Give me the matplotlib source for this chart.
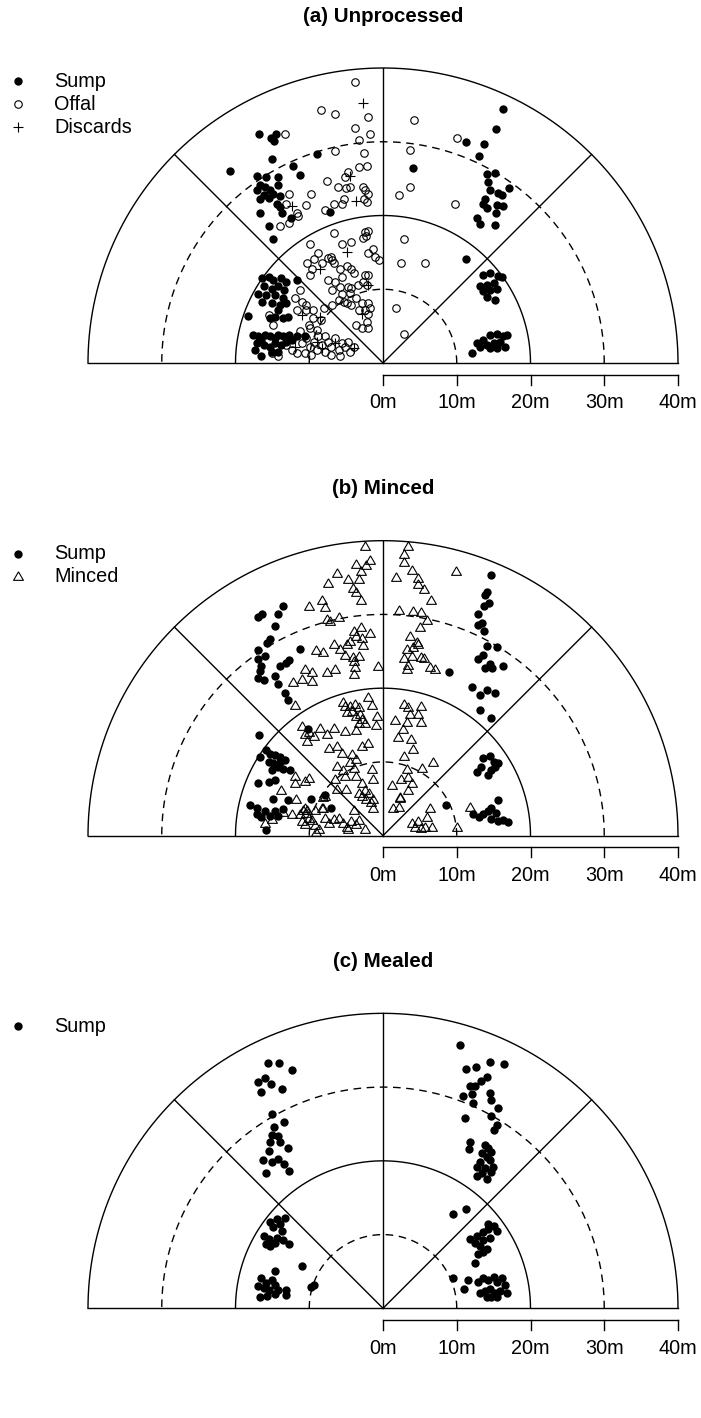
import numpy as np
import matplotlib
matplotlib.use("Agg")
import matplotlib.pyplot as plt

plt.rcParams['font.family'] = ['Liberation Sans', 'DejaVu Sans']

# positions in metres, (x, y) from the centre of the semicircle

# (a) Unprocessed
a_sump = [
    (-16.8, 31.1), (-15.2, 30.5), (-14.5, 31.1), (-14.8, 30.1), (-15.1, 27.6), (-9.0, 28.3),
    (-12.2, 26.7), (-11.2, 25.5), (-20.7, 26.1), (-17.1, 25.3), (-15.9, 25.2), (-14.2, 25.2),
    (-16.7, 24.1), (-16.0, 23.9), (-15.3, 23.5), (-17.1, 23.5), (-16.2, 22.8), (-15.5, 22.4),
    (-16.7, 22.2), (-14.9, 22.9), (-14.2, 24.1), (-13.9, 22.6), (-14.4, 21.6), (-14.0, 21.2),
    (-13.7, 20.3), (-16.7, 20.3), (-7.2, 20.5), (-15.5, 18.6), (-14.9, 16.8), (-12.5, 19.7),
    (16.3, 34.5), (15.3, 31.7), (11.2, 29.9), (13.7, 29.7), (13.0, 28.1), (4.0, 26.4),
    (14.1, 25.6), (15.2, 25.7), (14.3, 24.6), (17.1, 23.7), (14.5, 23.5), (15.6, 23.0),
    (16.2, 22.8), (13.8, 22.3), (13.6, 21.6), (15.4, 21.4), (16.3, 21.3), (14.1, 21.0),
    (15.3, 20.3), (12.7, 19.6), (13.2, 18.9), (15.2, 18.7), (11.3, 14.1),
    (13.6, 11.9), (14.5, 12.2), (15.6, 11.8), (16.1, 11.7), (13.2, 10.4), (14.1, 10.6),
    (15.0, 10.8), (13.6, 9.7), (14.5, 9.9), (15.4, 10.1), (14.1, 9.0), (15.2, 8.5),
    (12.7, 2.7), (13.6, 3.1), (14.5, 3.8), (15.4, 4.0), (16.3, 3.6), (16.8, 3.8),
    (13.2, 2.2), (14.1, 2.5), (15.0, 2.7), (15.9, 2.9), (16.5, 2.2), (15.4, 2.0),
    (14.5, 2.0), (12.0, 1.4),
    (-16.4, 11.5), (-15.5, 11.7), (-14.9, 11.3), (-13.8, 11.5), (-13.1, 11.0), (-16.2, 10.4),
    (-15.1, 10.1), (-14.2, 10.4), (-13.4, 9.9), (-16.9, 9.4), (-15.8, 9.2), (-14.6, 9.2),
    (-13.5, 8.8), (-16.4, 8.3), (-15.1, 8.1), (-14.0, 7.9), (-13.1, 8.1), (-11.7, 11.3),
    (-14.2, 7.2), (-14.6, 6.3), (-15.3, 6.1), (-13.5, 6.1), (-12.9, 6.2), (-18.3, 6.4),
    (-17.6, 3.8), (-16.9, 3.6), (-16.5, 3.1), (-16.0, 3.8), (-15.3, 3.6), (-14.6, 3.4),
    (-14.2, 3.8), (-13.5, 3.6), (-12.8, 3.8), (-12.4, 3.1), (-17.1, 2.7), (-16.2, 2.4),
    (-15.3, 2.2), (-14.6, 2.7), (-13.8, 2.4), (-13.1, 2.9), (-16.5, 0.9), (-17.4, 1.8),
    (-15.1, 1.5), (-14.2, 1.5), (-11.7, 3.6), (-10.6, 3.6),
]
a_offal = [
    (-3.8, 38.1), (-8.4, 34.3), (-6.5, 33.7), (-2.1, 33.4), (-3.8, 31.9), (-1.7, 31.1),
    (-3.3, 30.2), (-6.5, 28.7), (-2.6, 28.5), (-3.3, 26.6), (-2.2, 26.7), (-13.3, 31.0),
    (-7.6, 24.7), (-6.1, 23.8), (-5.2, 25.2), (-4.8, 25.9), (-5.0, 23.7), (-4.5, 23.9),
    (-2.7, 23.9), (-2.4, 23.5), (-2.0, 22.9), (-2.6, 22.3), (-2.2, 21.8), (-5.3, 22.3),
    (-5.6, 21.5), (-6.7, 21.6), (-7.9, 20.8), (-9.7, 22.9), (-10.5, 21.4), (-12.8, 22.9),
    (-11.6, 20.3), (-13.2, 21.6), (-14.0, 18.6), (-12.8, 19.0), (-11.5, 20.0),
    (4.2, 32.9), (3.7, 28.9), (3.6, 23.9), (2.2, 22.8), (9.7, 21.5), (10.0, 30.5),
    (2.8, 16.8), (2.5, 13.6), (5.7, 13.6), (1.8, 7.4), (2.8, 4.0),
    (-6.7, 17.6), (-9.9, 16.2), (-5.6, 16.2), (-4.3, 16.4), (-8.8, 14.9), (-10.3, 13.5),
    (-9.3, 14.1), (-8.3, 13.6), (-9.6, 12.7), (-9.9, 11.9), (-7.4, 14.2), (-6.9, 13.9),
    (-6.7, 13.5), (-5.8, 12.8), (-4.9, 13.1), (-4.3, 12.8), (-5.6, 11.7), (-4.0, 12.2),
    (-7.4, 11.3), (-6.5, 11.0), (-5.8, 10.3), (-4.7, 10.3), (-6.9, 9.9), (-5.6, 9.3),
    (-4.5, 9.5), (-3.6, 8.8), (-4.3, 7.9), (-2.9, 8.1), (-2.1, 8.1), (-1.7, 7.4),
    (-2.5, 7.2), (-2.0, 6.7), (-3.2, 7.2), (-4.9, 8.1), (-6.0, 8.5), (-5.3, 8.3),
    (-6.9, 7.9), (-3.6, 5.2), (-2.9, 4.7), (-2.0, 4.7), (-2.2, 5.6), (-2.4, 17.8),
    (-2.0, 17.9), (-2.7, 16.9), (-2.3, 17.2), (-1.4, 15.5), (-2.0, 14.9), (-1.1, 14.4),
    (-0.6, 14.0), (-7.0, 14.4), (-2.4, 12.0), (-2.0, 12.0), (-2.7, 11.0), (-2.2, 10.6),
    (-4.3, 10.2), (-3.4, 10.6),
    (-15.5, 6.5), (-14.9, 5.1), (-11.3, 9.9), (-12.0, 8.8), (-11.0, 8.3), (-10.4, 7.9),
    (-11.7, 7.2), (-10.4, 7.2), (-9.5, 7.2), (-9.5, 6.1), (-8.4, 5.8), (-8.0, 7.4),
    (-10.1, 5.1), (-9.0, 4.5),
    (-13.1, 2.4), (-12.4, 1.8), (-11.7, 1.3), (-11.0, 2.7), (-10.4, 3.4), (-9.9, 2.2),
    (-9.4, 2.9), (-9.0, 1.8), (-8.3, 2.4), (-7.9, 1.5), (-7.4, 2.9), (-7.0, 2.2),
    (-6.5, 3.4), (-6.0, 1.8), (-5.6, 2.7), (-5.2, 2.2), (-4.7, 2.9), (-4.5, 1.5),
    (-4.0, 2.2), (-10.6, 1.3), (-9.7, 1.1), (-7.0, 1.1), (-5.8, 0.9), (-8.8, 3.6),
    (-7.9, 3.6), (-15.1, 1.3), (-14.2, 0.9), (-11.3, 4.3), (-9.9, 4.7),
]
a_discards = [
    (-2.7, 35.2), (-3.6, 22.0), (-4.5, 25.3), (-12.3, 21.3), (-4.9, 15.0), (-8.6, 12.7),
    (-2.0, 10.6), (-2.9, 6.7), (-11.0, 6.5), (-8.6, 6.2), (-11.9, 2.2), (-9.0, 2.9),
    (-8.3, 2.0), (-6.5, 2.7), (-4.0, 2.0),
]

# (b) Minced
b_sump = [
    (-13.6, 31.2), (-14.2, 30.0), (-16.4, 30.0), (-17.0, 29.6), (-14.6, 28.4), (-15.3, 26.7),
    (-15.7, 26.1), (-17.0, 25.2), (-11.2, 25.3), (-16.0, 24.3), (-12.8, 23.8),
    (-16.9, 23.9), (-16.5, 23.0), (-16.7, 22.3), (-16.9, 21.4), (-16.2, 21.1), (-14.6, 21.6),
    (-13.9, 23.0), (-13.1, 23.4), (-14.2, 20.5), (-13.3, 19.3), (-12.9, 18.4),
    (-10.2, 14.4),
    (-16.8, 13.6), (-15.8, 11.6), (-16.7, 10.7), (-15.3, 11.1), (-14.6, 10.9), (-13.9, 10.7),
    (-13.3, 10.2), (-15.5, 10.0), (-14.9, 9.8), (-14.2, 9.3), (-13.5, 9.1), (-12.6, 8.9),
    (-15.1, 8.9), (-14.6, 7.5), (-15.5, 7.3), (-17.0, 7.1), (-13.9, 10.0), (-14.9, 5.0),
    (-12.9, 4.8), (-9.7, 5.0), (-7.9, 5.5), (-7.0, 3.8), (-17.1, 3.8), (-16.0, 3.4),
    (-14.6, 3.4), (-13.5, 3.6), (-18.0, 4.1), (-17.1, 2.9), (-16.5, 2.5), (-15.3, 2.6),
    (-14.2, 2.6), (-15.9, 0.8),
    (14.6, 35.3), (14.1, 33.0), (13.8, 32.6), (14.4, 31.6), (13.7, 31.2), (12.9, 30.0),
    (13.4, 28.9), (12.9, 28.5), (13.7, 27.8), (14.1, 25.7), (15.4, 25.6), (13.5, 24.5),
    (12.9, 23.9), (14.5, 23.3), (13.8, 22.8), (14.8, 22.7), (16.3, 23.0), (8.9, 22.2),
    (12.0, 20.2), (13.2, 19.1), (14.1, 19.7), (15.2, 19.3), (13.2, 17.0), (14.7, 15.9),
    (13.5, 10.5), (14.5, 10.8), (15.1, 10.0), (15.6, 9.9), (13.3, 9.3), (12.7, 8.6),
    (14.2, 8.2), (14.7, 8.9), (15.2, 9.3), (8.5, 4.2), (12.2, 2.9), (13.0, 2.5),
    (13.6, 2.9), (14.3, 3.3), (14.7, 3.8), (15.3, 3.1), (15.6, 4.8), (15.6, 2.0),
    (16.3, 2.1), (16.9, 1.9), (14.7, 2.3),
]
b_minced = [
    (-2.4, 39.1), (-1.8, 37.3), (-3.6, 36.7), (-2.3, 36.5), (-3.0, 35.8), (-6.2, 35.5),
    (-4.7, 34.6), (-3.3, 34.7), (-7.5, 34.1), (-4.1, 33.4), (-3.6, 32.9), (-3.0, 31.8),
    (-10.1, 31.0), (-8.3, 31.8), (-7.9, 30.9), (-7.6, 29.3), (-7.2, 29.0), (-5.9, 29.5),
    (-3.9, 27.6), (-3.0, 28.1), (-1.8, 27.3), (-3.6, 27.0), (-2.9, 26.6), (-4.5, 26.3),
    (-2.7, 25.7), (-4.9, 25.8), (-6.7, 25.9), (-5.8, 25.2), (-9.1, 25.0), (-8.2, 24.8),
    (-5.2, 24.3), (-4.1, 24.1), (-3.3, 24.2),
    (-10.6, 22.5), (-9.6, 22.0), (-11.0, 21.1), (-12.2, 20.7), (-9.6, 20.8), (-7.6, 22.0),
    (-6.5, 22.5), (-4.0, 23.6), (-3.8, 22.7), (-3.9, 21.8), (-0.7, 22.9), (-12.0, 17.6),
    (-5.4, 18.0), (-4.5, 17.5), (-3.8, 17.7), (-4.2, 16.8), (-3.3, 17.3), (-3.1, 16.4),
    (-3.6, 16.1), (-2.9, 15.7), (-2.4, 15.2), (-3.3, 15.2), (-2.0, 18.6), (-1.5, 17.6),
    (-0.8, 16.1), (-1.0, 14.9), (-4.9, 16.6), (-5.2, 17.4), (-11.0, 14.8), (-10.1, 13.9),
    (-9.4, 13.4), (-8.5, 14.5), (-7.6, 13.6), (-6.7, 14.5), (-5.2, 14.1), (-3.7, 14.2),
    (-10.3, 12.7), (-10.6, 13.6),
    (-7.3, 11.8), (-6.2, 12.0), (-5.6, 11.1), (-4.2, 10.9), (-2.9, 12.0), (-2.0, 12.4),
    (-4.5, 9.8), (-3.6, 10.3), (-6.2, 9.3), (-5.4, 8.8), (-4.0, 9.1), (-6.5, 7.5),
    (-5.2, 7.9), (-3.7, 7.9), (-2.9, 7.0), (-1.5, 8.9), (-1.3, 7.5), (-2.4, 6.1),
    (-1.9, 5.6), (-3.3, 5.7), (-1.3, 4.8), (-5.0, 6.2), (-6.3, 6.2),
    (-12.0, 7.9), (-10.6, 7.3), (-12.0, 7.0), (-10.1, 7.7), (-13.8, 6.1), (-7.9, 5.2),
    (-10.6, 3.6), (-8.1, 3.6), (-10.3, 3.4), (-9.2, 3.4),
    (-16.0, 1.6), (-15.1, 2.1), (-13.5, 3.1), (-12.4, 2.8), (-11.8, 4.8), (-11.3, 2.8),
    (-10.8, 3.4), (-10.4, 3.0), (-10.1, 2.3), (-9.6, 2.0), (-9.2, 1.3), (-8.7, 0.8),
    (-8.3, 3.6), (-7.9, 2.3), (-7.3, 1.6), (-6.7, 2.1), (-6.0, 2.3), (-5.4, 1.6),
    (-4.9, 1.1), (-4.3, 1.9), (-3.7, 1.4), (-3.3, 2.0), (-4.0, 3.3), (-2.9, 5.2),
    (-2.3, 4.9), (-1.6, 4.4), (-1.3, 3.6), (-9.1, 0.4), (-4.7, 0.8), (-10.6, 1.5),
    (-11.0, 1.9), (-8.1, 5.1), (-2.4, 0.8),
    (3.4, 39.1), (2.8, 38.0), (2.9, 37.0), (3.9, 35.9), (1.7, 34.9), (4.8, 34.8),
    (4.7, 34.0), (5.6, 33.3), (6.5, 31.8), (9.9, 35.8), (2.2, 30.5), (4.0, 30.3),
    (5.2, 30.2), (5.9, 29.1), (5.0, 28.2), (3.7, 27.0), (4.6, 26.1), (3.2, 25.2),
    (4.1, 25.5), (4.8, 25.9), (2.9, 23.9), (3.9, 24.2), (5.2, 24.1), (5.6, 23.9),
    (3.4, 23.0), (3.2, 22.5), (6.4, 22.7), (7.0, 22.5),
    (2.8, 17.7), (3.4, 17.3), (5.2, 17.5), (3.7, 16.4), (4.7, 16.4), (1.6, 15.5),
    (3.2, 15.3), (5.2, 15.3), (2.7, 14.3), (2.0, 13.2), (3.8, 13.0), (4.1, 11.6),
    (2.9, 10.6), (5.3, 9.1), (6.8, 9.8), (3.2, 8.9), (2.5, 7.5), (3.4, 7.8),
    (3.9, 7.0), (1.2, 6.7), (2.3, 5.0), (3.4, 6.0), (6.4, 3.6), (1.4, 3.6),
    (2.3, 5.1), (2.2, 3.7), (3.9, 1.6), (4.3, 1.1), (4.7, 1.9), (5.7, 1.1),
    (5.9, 2.4), (6.6, 1.1), (5.2, 0.9), (10.1, 1.1), (11.8, 3.8),
]

# (c) Mealed
c_sump = [
    (-15.6, 33.2), (-14.1, 33.3), (-12.4, 32.3), (-16.9, 30.7), (-16.0, 31.2), (-15.2, 30.4),
    (-16.6, 29.3), (-13.7, 29.7), (-15.1, 26.3), (-13.4, 25.2), (-14.8, 24.6), (-15.1, 23.5),
    (-14.2, 23.3), (-15.3, 22.6), (-13.9, 22.5), (-12.9, 21.8), (-15.5, 21.3), (-16.3, 20.1),
    (-15.0, 19.8), (-14.2, 20.2), (-13.4, 19.6), (-15.9, 18.3), (-12.7, 18.6),
    (10.4, 35.7), (11.3, 32.5), (12.6, 32.7), (14.5, 33.4), (16.4, 33.1), (14.1, 31.3),
    (13.3, 30.8), (12.5, 30.1), (11.8, 30.2), (10.9, 28.8), (12.0, 29.0), (12.2, 27.9),
    (14.5, 29.2), (14.6, 28.2), (15.6, 27.2), (14.6, 26.1), (11.1, 25.8), (15.4, 24.8),
    (15.1, 24.2), (11.8, 22.6), (11.6, 21.6), (13.8, 22.1), (14.3, 21.7), (14.7, 21.2),
    (13.4, 21.0), (14.1, 20.5), (14.5, 20.1), (13.2, 19.9), (12.7, 19.2), (13.8, 19.0),
    (14.9, 19.2), (13.4, 18.3), (14.1, 17.6), (14.7, 18.5), (12.7, 18.0),
    (9.5, 12.8), (11.3, 13.5), (12.7, 9.8), (13.6, 10.3), (14.3, 10.8), (15.0, 11.2),
    (15.4, 10.5), (11.8, 9.4), (12.5, 8.9), (13.6, 9.2), (14.5, 9.6), (13.2, 8.5),
    (14.1, 8.0), (12.9, 7.3), (14.3, 11.5), (12.5, 6.1), (13.6, 7.6),
    (9.5, 4.1), (11.5, 3.9), (11.0, 2.6), (12.9, 3.6), (13.6, 4.1), (14.3, 3.9),
    (15.0, 4.3), (15.4, 3.6), (16.1, 4.1), (16.5, 3.1), (16.8, 2.1), (13.2, 2.1),
    (13.8, 2.4), (14.5, 2.6), (15.2, 2.1), (15.9, 2.4), (14.1, 1.6), (14.7, 1.6),
    (15.4, 1.5),
    (-14.4, 12.1), (-13.3, 12.3), (-15.3, 11.7), (-13.9, 11.4), (-14.9, 11.0), (-13.7, 10.5),
    (-16.2, 9.8), (-15.5, 9.4), (-14.4, 9.6), (-13.5, 9.2), (-12.8, 8.7), (-15.3, 8.5),
    (-14.6, 8.9), (-15.9, 8.7),
    (-11.0, 5.8), (-14.6, 5.1), (-16.5, 4.1), (-15.8, 3.5), (-15.1, 3.9), (-16.9, 3.0),
    (-16.1, 2.7), (-15.5, 2.5), (-14.7, 3.1), (-14.2, 2.5), (-13.1, 2.5), (-13.1, 1.8),
    (-16.7, 1.6), (-15.7, 1.7), (-14.7, 2.0), (-9.8, 2.9), (-9.3, 3.2),
]

titles = ["(a) Unprocessed", "(b) Minced", "(c) Mealed"]
tick_vals = [0, 10, 20, 30, 40]
tick_labels = ["0m", "10m", "20m", "30m", "40m"]
solid_radii = [20, 40]
dashed_radii = [10, 30]
spoke_angles = [45, 90, 135]

# pixel scale of the original: 7.375 px per metre, centre at x=383
PX = 7.375
LW = 1.0
TRI = [(0, 1), (-0.866, -0.5), (0.866, -0.5), (0, 1)]

styles = {
    "Sump": dict(marker="o", ms=6.0, mfc="k", mec="k", mew=0),
    "Offal": dict(marker="o", ms=5.4, mfc="none", mec="k", mew=0.8),
    "Discards": dict(marker="+", ms=7.0, mec="k", mew=0.8),
    "Minced": dict(marker=TRI, ms=8.2, mfc="none", mec="k", mew=0.8),
}


def draw_panel(ax, title, groups):
    th = np.linspace(0, np.pi, 500)
    for r in solid_radii:
        ax.plot(r * np.cos(th), r * np.sin(th), color="k", lw=LW, zorder=1)
    for r in dashed_radii:
        ax.plot(r * np.cos(th), r * np.sin(th), color="k", lw=LW,
                ls=(0, (5.5, 4)), zorder=1)
    ax.plot([-40, 40], [0, 0], color="k", lw=LW, zorder=1)
    for a in spoke_angles:
        t = np.deg2rad(a)
        ax.plot([0, 40 * np.cos(t)], [0, 40 * np.sin(t)], color="k", lw=LW, zorder=1)

    # distance scale under the right half
    ay = -11.5 / PX
    ax.plot([tick_vals[0], tick_vals[-1]], [ay, ay], color="k", lw=LW)
    for v, lab in zip(tick_vals, tick_labels):
        ax.plot([v, v], [ay, ay - 10 / PX], color="k", lw=LW)
        ax.text(v, -40 / PX, lab, ha="center", va="center", fontsize=14.3)

    for i, (name, pts) in enumerate(groups):
        pts = np.array(pts)
        ax.plot(pts[:, 0], pts[:, 1], ls="none", zorder=2, **styles[name])
        ly = (363 - 81 - 23.2 * i) / PX
        ax.plot([-365 / PX], [ly], ls="none", **styles[name])
        ax.text(-329 / PX, ly, name, ha="left", va="center", fontsize=14.3)

    ax.text(0, (363 - 16) / PX, title, ha="center", va="center",
            fontsize=14.8, fontweight="bold")


fig = plt.figure(figsize=(7.01, 14.18), dpi=100)
row_h = 1418 / 3
panels = [
    [("Sump", a_sump), ("Offal", a_offal), ("Discards", a_discards)],
    [("Sump", b_sump), ("Minced", b_minced)],
    [("Sump", c_sump)],
]
for i in range(3):
    ax = fig.add_axes([0, 1 - (i + 1) / 3, 1, 1 / 3])
    ax.set_xlim(-383 / PX, (701 - 383) / PX)
    ax.set_ylim(-(row_h - 363) / PX, 363 / PX)
    ax.axis("off")
    draw_panel(ax, titles[i], panels[i])

fig.savefig("out.png", dpi=100)
